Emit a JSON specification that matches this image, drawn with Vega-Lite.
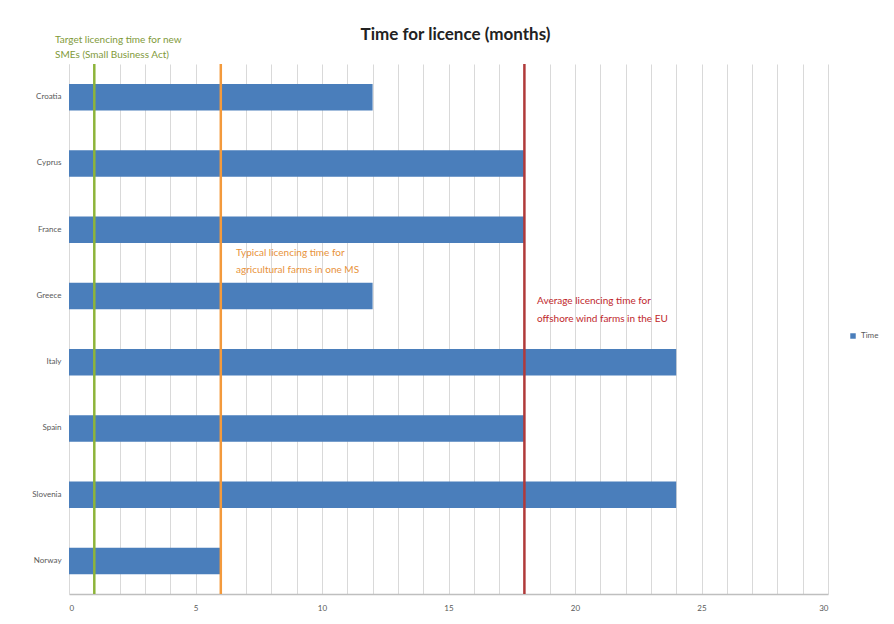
{
  "$schema": "https://vega.github.io/schema/vega-lite/v6.json",
  "width": 759,
  "height": 530,
  "autosize": {"type": "none"},
  "padding": {"left": 69, "top": 64, "right": 66, "bottom": 30},
  "background": "white",
  "config": {
    "font": "Lato",
    "view": {"stroke": null}
  },
  "title": {
    "text": "Time for licence (months)",
    "fontSize": 17,
    "fontWeight": "bold",
    "color": "#222222",
    "offset": -9,
    "dx": 7
  },
  "datasets": {
    "bars": [
      {"country": "Croatia", "months": 12, "series": "Time"},
      {"country": "Cyprus", "months": 18, "series": "Time"},
      {"country": "France", "months": 18, "series": "Time"},
      {"country": "Greece", "months": 12, "series": "Time"},
      {"country": "Italy", "months": 24, "series": "Time"},
      {"country": "Spain", "months": 18, "series": "Time"},
      {"country": "Slovenia", "months": 24, "series": "Time"},
      {"country": "Norway", "months": 6, "series": "Time"}
    ]
  },
  "encoding": {
    "x": {
      "type": "quantitative",
      "scale": {"domain": [0, 30], "nice": false},
      "axis": {
        "title": null,
        "values": [0,1,2,3,4,5,6,7,8,9,10,11,12,13,14,15,16,17,18,19,20,21,22,23,24,25,26,27,28,29,30],
        "labelExpr": "datum.value % 5 === 0 ? datum.label : ''",
        "labelOverlap": false,
        "ticks": false,
        "labelFontSize": 8,
        "labelColor": "#595959",
        "labelPadding": 10,
        "domainColor": "#bfbfbf",
        "domainWidth": 1.5,
        "gridColor": "#d9d9d9",
        "gridWidth": 1
      }
    }
  },
  "layer": [
    {
      "data": {"name": "bars"},
      "mark": {"type": "bar", "color": "#4a7ebb"},
      "encoding": {
        "y": {
          "field": "country", "type": "nominal", "sort": null,
          "scale": {"paddingInner": 0.6, "paddingOuter": 0.3},
          "axis": {"title": null, "ticks": false, "labelFontSize": 8, "labelColor": "#595959", "labelPadding": 8, "domainColor": "#d9d9d9"}
        },
        "x": {"field": "months"},
        "color": {
          "field": "series", "type": "nominal",
          "scale": {"range": ["#4a7ebb"]},
          "legend": {"title": null, "orient": "none", "legendX": 780, "legendY": 268, "symbolType": "square", "symbolSize": 30, "labelFontSize": 8, "labelColor": "#595959"}
        }
      }
    },
    {
      "data": {"values": [{"v": 1}]},
      "mark": {"type": "rule", "strokeWidth": 2.5, "color": "#8db43a"},
      "encoding": {"x": {"field": "v"}}
    },
    {
      "data": {"values": [{"v": 6}]},
      "mark": {"type": "rule", "strokeWidth": 2.5, "color": "#f39a3c"},
      "encoding": {"x": {"field": "v"}}
    },
    {
      "data": {"values": [{"v": 18}]},
      "mark": {"type": "rule", "strokeWidth": 2.5, "color": "#b03a3a"},
      "encoding": {"x": {"field": "v"}}
    },
    {
      "data": {"values": [{"note": "Target licencing time for new\nSMEs (Small Business Act)", "x": -0.55, "country": "Croatia"}]},
      "mark": {"type": "text", "align": "left", "baseline": "top", "dy": -62, "fontSize": 10, "lineHeight": 15, "color": "#7f9a3a", "lineBreak": "\n"},
      "encoding": {
        "x": {"field": "x"},
        "y": {"field": "country", "type": "nominal", "sort": null},
        "text": {"field": "note"}
      }
    },
    {
      "data": {"values": [{"note": "Typical licencing time for\nagricultural farms in one MS", "x": 6.6, "country": "France"}]},
      "mark": {"type": "text", "align": "left", "baseline": "top", "dy": 18, "fontSize": 10, "lineHeight": 17, "color": "#e8923a", "lineBreak": "\n"},
      "encoding": {
        "x": {"field": "x"},
        "y": {"field": "country", "type": "nominal", "sort": null},
        "text": {"field": "note"}
      }
    },
    {
      "data": {"values": [{"note": "Average licencing time for\noffshore wind farms in the EU", "x": 18.5, "country": "Greece"}]},
      "mark": {"type": "text", "align": "left", "baseline": "top", "dy": 0, "fontSize": 10, "lineHeight": 18, "color": "#c0282c", "lineBreak": "\n"},
      "encoding": {
        "x": {"field": "x"},
        "y": {"field": "country", "type": "nominal", "sort": null},
        "text": {"field": "note"}
      }
    }
  ]
}
